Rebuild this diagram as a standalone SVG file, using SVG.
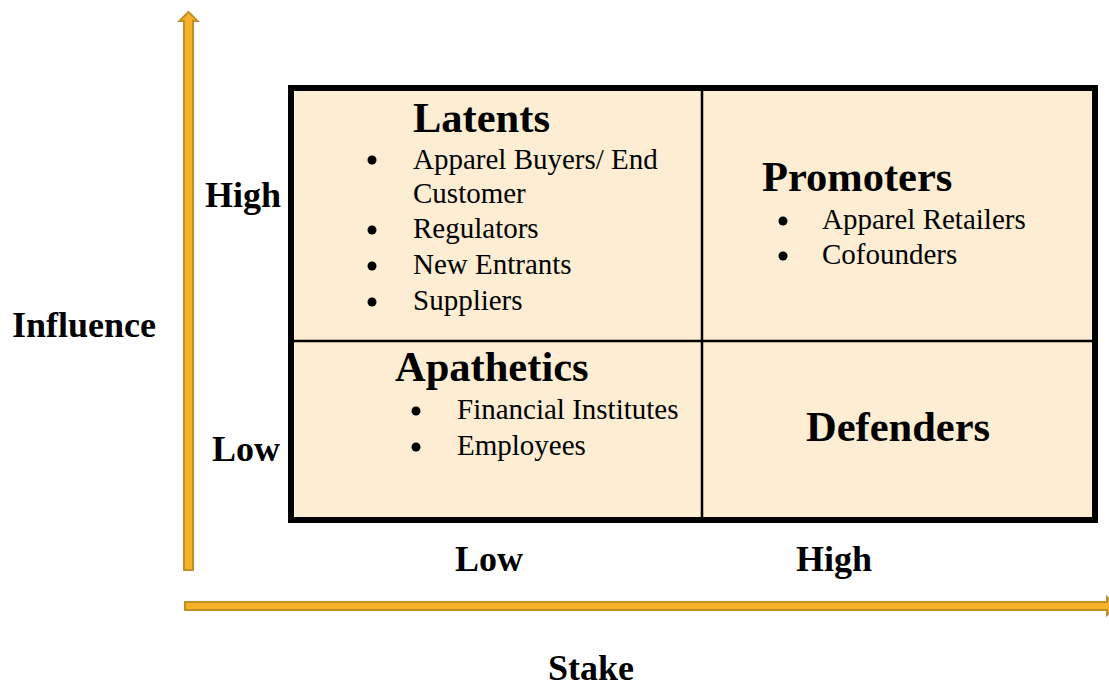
<svg xmlns="http://www.w3.org/2000/svg" width="1109" height="687" viewBox="0 0 1109 687">
  <style>
    .axis { fill: #f6b128; stroke: #c18f27; stroke-width: 2; }
    .title { font-family: "Liberation Serif", "Times New Roman", serif; font-weight: bold; font-size: 42.5px; fill: #000; }
    .lbl { font-family: "Liberation Serif", "Times New Roman", serif; font-weight: bold; font-size: 36px; fill: #000; }
    .item { font-family: "Liberation Serif", "Times New Roman", serif; font-size: 29px; fill: #000; }
    .dot { fill: #000; }
  </style>
  <rect width="1109" height="687" fill="#ffffff"/>

  <!-- axes -->
  <g id="connectors">
    <!-- influence axis (vertical, pointing up) -->
    <path class="axis" d="M184,570 L184,21 L179.5,21 L188.5,12 L197.5,21 L193,21 L193,570 Z"/>
    <!-- stake axis (horizontal, pointing right) -->
    <path class="axis" d="M185,602 L1107,602 L1107,597 L1117,606 L1107,615 L1107,610 L185,610 Z"/>
  </g>

  <!-- matrix grid -->
  <g id="matrix">
    <rect x="291" y="88" width="804" height="432" fill="#fdedd3" stroke="#000" stroke-width="6"/>
    <line x1="702" y1="88" x2="702" y2="520" stroke="#000" stroke-width="2.5"/>
    <line x1="291" y1="341" x2="1095" y2="341" stroke="#000" stroke-width="2.5"/>
  </g>

  <!-- top-left quadrant -->
  <g id="latents">
    <text class="title" x="413" y="132">Latents</text>
    <circle class="dot" cx="372" cy="160" r="4.5"/>
    <text class="item" x="413" y="169">Apparel Buyers/ End</text>
    <text class="item" x="413" y="203">Customer</text>
    <circle class="dot" cx="372" cy="230" r="4.5"/>
    <text class="item" x="413" y="238">Regulators</text>
    <circle class="dot" cx="372" cy="266" r="4.5"/>
    <text class="item" x="413" y="274">New Entrants</text>
    <circle class="dot" cx="372" cy="302" r="4.5"/>
    <text class="item" x="413" y="310">Suppliers</text>
  </g>

  <!-- top-right quadrant -->
  <g id="promoters">
    <text class="title" x="762" y="191">Promoters</text>
    <circle class="dot" cx="783" cy="221" r="4.5"/>
    <text class="item" x="822" y="229">Apparel Retailers</text>
    <circle class="dot" cx="783" cy="256" r="4.5"/>
    <text class="item" x="822" y="264">Cofounders</text>
  </g>

  <!-- bottom-left quadrant -->
  <g id="apathetics">
    <text class="title" x="395" y="381">Apathetics</text>
    <circle class="dot" cx="416" cy="411" r="4.5"/>
    <text class="item" x="457" y="419">Financial Institutes</text>
    <circle class="dot" cx="416" cy="447" r="4.5"/>
    <text class="item" x="457" y="455">Employees</text>
  </g>

  <!-- bottom-right quadrant -->
  <g id="defenders">
    <text class="title" x="806" y="441">Defenders</text>
  </g>

  <!-- axis labels -->
  <g id="axis-labels">
    <text class="lbl" x="205" y="207">High</text>
    <text class="lbl" x="212" y="461">Low</text>
    <text class="lbl" x="12" y="337">Influence</text>
    <text class="lbl" x="455" y="571">Low</text>
    <text class="lbl" x="796" y="571">High</text>
    <text class="lbl" x="548" y="680">Stake</text>
  </g>
</svg>
